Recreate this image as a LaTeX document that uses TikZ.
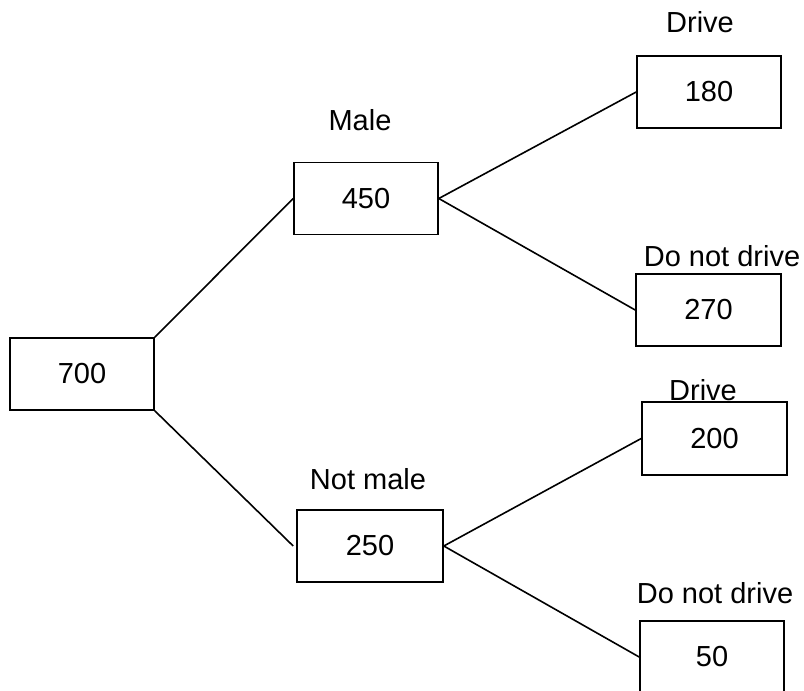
\documentclass[tikz,border=0pt]{standalone}
\usepackage{fontspec}
\setmainfont{Liberation Sans}
\begin{document}
\begin{tikzpicture}[x=1pt,y=-1pt,
  valbox/.style={draw,line width=1.6pt,minimum width=144pt,minimum height=72pt,inner sep=0pt,font=\fontsize{29}{34}\selectfont},
  lbl/.style={inner sep=0pt,font=\fontsize{29}{34}\selectfont},
  link/.style={line width=1.6pt}]
\clip (0,0) rectangle (804,691);
\useasboundingbox (0,0) rectangle (804,691);
\node[valbox] (n700) at (82,374) {700};
\node[valbox] (n450) at (366,198.5) {450};
\node[valbox,minimum width=146pt] (n250) at (370,546) {250};
\node[valbox] (n180) at (709,92) {180};
\node[valbox,minimum width=145pt] (n270) at (708.5,310) {270};
\node[valbox,minimum width=145pt,minimum height=73pt] (n200) at (714.5,438.5) {200};
\node[valbox] (n50) at (712,657) {50};
\node[lbl] (l180) at (700,22) {Drive};
\node[lbl] (l450) at (360,120) {Male};
\node[lbl] (l270) at (722,256) {Do not drive};
\node[lbl] (l200) at (703,390) {Drive};
\node[lbl] (l250) at (368,479) {Not male};
\node[lbl] (l50) at (715,593) {Do not drive};
\draw[link] (n700.north east) -- (n450.west);
\draw[link] (n700.south east) -- ([xshift=-3pt]n250.west);
\draw[link] (n450.east) -- (n180.west);
\draw[link] (n450.east) -- (n270.west);
\draw[link] (n250.east) -- (n200.west);
\draw[link] (n250.east) -- (n50.west);
\end{tikzpicture}
\end{document}
